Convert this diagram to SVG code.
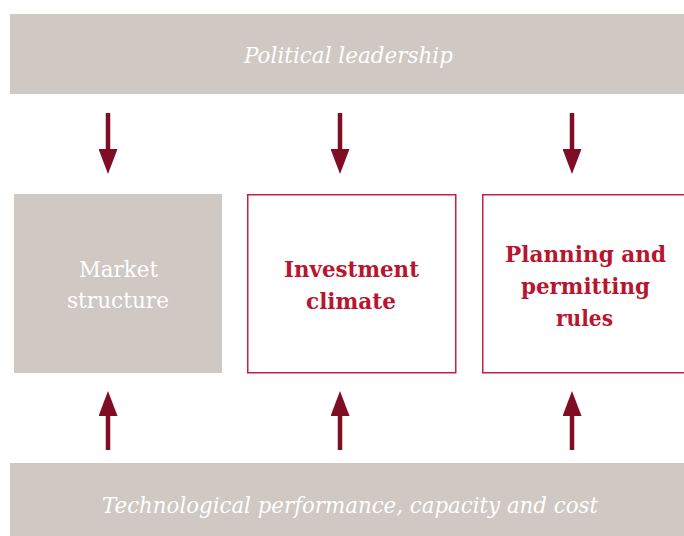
<svg xmlns="http://www.w3.org/2000/svg" width="684" height="536" viewBox="0 0 684 536">
<style>
.bar{fill:#cfc8c3}
.box{fill:#fff;stroke:#c5203d;stroke-width:1.5}
text{font-family:"DejaVu Serif","Liberation Serif",serif;text-anchor:middle}
.bartext{font-style:italic;font-size:23px;fill:#fff}
.graytext{font-size:22px;fill:#fff}
.redtext{font-weight:bold;font-size:22px;fill:#b8152f}
.arrow{stroke:#7f0d24;stroke-width:4.5;fill:none;marker-end:url(#head)}
</style>
<defs>
<marker id="head" markerUnits="userSpaceOnUse" markerWidth="25" markerHeight="19" viewBox="0 0 25 19" refX="1" refY="9.5" orient="auto">
<path d="M0,0 L25,9.5 L0,19 z" fill="#7f0d24"/>
</marker>
</defs>
<rect width="684" height="536" fill="#fff"/>
<g id="political-leadership">
<rect class="bar" x="10" y="14" width="674" height="80"/>
<text class="bartext" x="348.5" y="63" textLength="209" lengthAdjust="spacingAndGlyphs">Political leadership</text>
</g>
<g id="market-structure">
<rect class="bar" x="14" y="194" width="208" height="179"/>
<text class="graytext" x="118.5" y="277" textLength="79" lengthAdjust="spacingAndGlyphs">Market</text>
<text class="graytext" x="118" y="308" textLength="102" lengthAdjust="spacingAndGlyphs">structure</text>
</g>
<g id="investment-climate">
<rect class="box" x="247.75" y="194.75" width="208" height="178"/>
<text class="redtext" x="351.5" y="277" textLength="135" lengthAdjust="spacingAndGlyphs">Investment</text>
<text class="redtext" x="351" y="309" textLength="90" lengthAdjust="spacingAndGlyphs">climate</text>
</g>
<g id="planning-permitting">
<rect class="box" x="482.75" y="194.75" width="210" height="178"/>
<text class="redtext" x="585.5" y="262" textLength="161" lengthAdjust="spacingAndGlyphs">Planning and</text>
<text class="redtext" x="585.5" y="294" textLength="129" lengthAdjust="spacingAndGlyphs">permitting</text>
<text class="redtext" x="584.5" y="326" textLength="57" lengthAdjust="spacingAndGlyphs">rules</text>
</g>
<g id="technological-performance">
<rect class="bar" x="10" y="463" width="674" height="73"/>
<text class="bartext" x="350" y="513" textLength="496" lengthAdjust="spacingAndGlyphs">Technological performance, capacity and cost</text>
</g>
<g id="connectors">
<line class="arrow" x1="108" y1="113" x2="108" y2="150"/>
<line class="arrow" x1="340" y1="113" x2="340" y2="150"/>
<line class="arrow" x1="572" y1="113" x2="572" y2="150"/>
<line class="arrow" x1="108" y1="450" x2="108" y2="415"/>
<line class="arrow" x1="340" y1="450" x2="340" y2="415"/>
<line class="arrow" x1="572" y1="450" x2="572" y2="415"/>
</g>
</svg>
